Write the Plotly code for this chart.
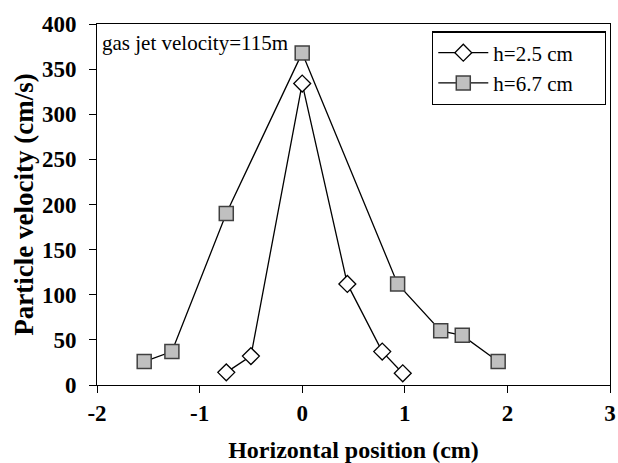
import plotly.graph_objects as go

x_h25 = [-0.74, -0.50, 0.0, 0.44, 0.78, 0.98]
y_h25 = [14, 32, 334, 112, 37, 13]

x_h67 = [-1.54, -1.27, -0.74, 0.0, 0.93, 1.35, 1.56, 1.91]
y_h67 = [26, 37, 190, 368, 112, 60, 55, 26]

x_ticks = [-2, -1, 0, 1, 2, 3]
y_ticks = [0, 50, 100, 150, 200, 250, 300, 350, 400]

font_family = "Liberation Serif"
pad = "\u00a0" * 5

fig = go.Figure()
fig.add_trace(go.Scatter(
    x=x_h25, y=y_h25, mode="lines+markers", name="h=2.5 cm" + pad,
    line=dict(color="black", width=1.3),
    marker=dict(symbol="diamond", size=13, color="white",
                line=dict(color="black", width=1.3)),
))
fig.add_trace(go.Scatter(
    x=x_h67, y=y_h67, mode="lines+markers", name="h=6.7 cm" + pad,
    line=dict(color="black", width=1.3),
    marker=dict(symbol="square", size=14, color="#c0c0c0",
                line=dict(color="#404040", width=1.5)),
))

tick_font = dict(family=font_family, size=23, color="black", weight="bold")

fig.update_layout(
    width=618, height=463,
    margin=dict(l=97, r=8, t=24, b=78, autoexpand=False),
    paper_bgcolor="white", plot_bgcolor="white",
    font=dict(family=font_family, color="black"),
    showlegend=True,
    legend=dict(
        x=0.653, y=0.98, xanchor="left", yanchor="top",
        bgcolor="white", bordercolor="black", borderwidth=1.3,
        font=dict(family=font_family, size=21, color="black"),
        itemwidth=50, tracegroupgap=0,
    ),
    annotations=[dict(
        x=0.006, y=0.985, xref="paper", yref="paper",
        xanchor="left", yanchor="top", showarrow=False,
        text="gas jet velocity=115m",
        font=dict(family=font_family, size=21, color="black"),
    )],
    xaxis=dict(
        range=[-2, 3], tickmode="array", tickvals=x_ticks,
        ticktext=[str(v) for v in x_ticks],
        showgrid=False, zeroline=False, showline=True, linecolor="black", linewidth=1.3,
        mirror=True, ticks="outside", ticklen=7, tickcolor="black", tickwidth=1,
        tickfont=tick_font,
        title=dict(text="<b>Horizontal position (cm)</b>", standoff=16,
                   font=dict(family=font_family, size=24, color="black")),
    ),
    yaxis=dict(
        range=[0, 400], tickmode="array", tickvals=y_ticks,
        ticktext=[str(v) + "\u00a0\u200a" for v in y_ticks],
        showgrid=False, zeroline=False, showline=True, linecolor="black", linewidth=1.3,
        mirror=True, ticks="outside", ticklen=7, tickcolor="black", tickwidth=1,
        tickfont=tick_font,
        title=dict(text="<b>Particle velocity (cm/s)</b>", standoff=0,
                   font=dict(family=font_family, size=27, color="black")),
    ),
)

fig.write_html("out.html")
